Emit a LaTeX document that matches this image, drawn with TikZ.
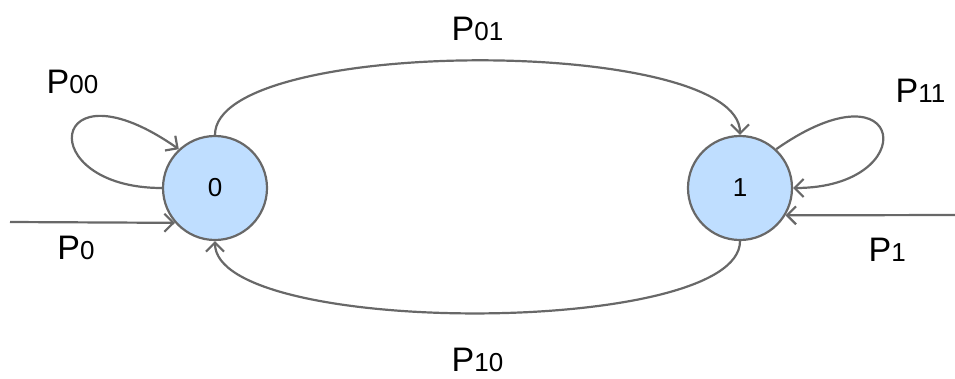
\documentclass[tikz,border=0pt]{standalone}
\usepackage{fontspec}
\setmainfont{Liberation Sans}
\usetikzlibrary{arrows.meta,automata,positioning}
\definecolor{stateblue}{RGB}{191,222,255}
\definecolor{linegray}{RGB}{104,104,104}
\newcommand{\Pl}[1]{P{\fontsize{26pt}{26pt}\selectfont #1}}

\begin{document}
\begin{tikzpicture}[->,>={Straight Barb[length=9pt,width=18pt]},x=1pt,y=-1pt,node distance=525pt,line width=2.2pt,draw=linegray]
  \tikzstyle{every state}=[fill=stateblue,draw=linegray,text=black,line width=2.2pt,minimum size=104pt,inner sep=0pt,font=\fontsize{26pt}{26pt}\selectfont]
  \tikzstyle{lbl}=[inner sep=0pt,text=black,font=\fontsize{34pt}{34pt}\selectfont]
  \useasboundingbox (0,0) rectangle (955,378);

  \node[state] (q0) at (215,188) {0};
  \node[state] (q1) [right of=q0] {1};
  \coordinate (in0) at (10,222);
  \coordinate (in1) at (955,215);

  \path
  (q0.west) edge[out=180,in=145,out distance=130pt,in distance=160pt]
    node[lbl,pos=0.5,above=39pt] {\Pl{00}} (q0.133)
  (q1.47) edge[out=35,in=0,out distance=160pt,in distance=130pt]
    node[lbl,pos=0.5,above=31pt,xshift=38pt] {\Pl{11}} (q1.east)
  (q0.north) edge[out=90,in=90,distance=99pt]
    node[lbl,above=19pt] {\Pl{01}} (q1.north)
  (q1.south) edge[out=-90,in=-90,distance=96pt]
    node[lbl,below=34pt] {\Pl{10}} (q0.south)
  (in0) edge node[lbl,pos=0.4,below=13pt] {\Pl{0}} (q0.221)
  (in1) edge node[lbl,pos=0.4,below=22pt] {\Pl{1}} (q1.-31);
\end{tikzpicture}
\end{document}
